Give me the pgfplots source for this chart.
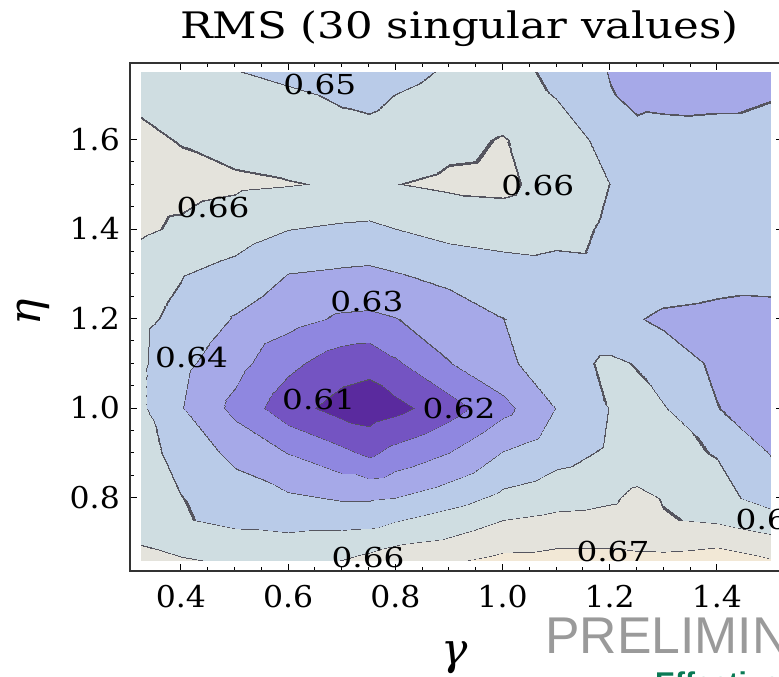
\documentclass[border=0pt]{standalone}
\usepackage{fontspec}
\setmainfont{DejaVu Serif}
\newfontfamily\titlefont[FakeStretch=1.19]{DejaVu Serif}
\newfontfamily\tickfont[FakeStretch=1.05]{DejaVu Serif}
\newfontfamily\sansfont{Liberation Sans}
\usepackage{pgfplots}
\pgfplotsset{compat=1.18}
\definecolor{prelim}{RGB}{154,154,154}
\definecolor{effgreen}{RGB}{10,122,85}
\begin{document}
\begin{tikzpicture}[x=1pt,y=1pt]
\begin{axis}[
  at={(130pt,106pt)}, anchor=south west, scale only axis,
  width=653pt, height=508pt,
  xmin=0.305, xmax=1.5233, ymin=0.6358, ymax=1.771,
  axis on top,
  xtick={0.4,0.6,0.8,1.0,1.2,1.4}, xticklabels={0.4,0.6,0.8,1.0,1.2,1.4},
  ytick={0.8,1.0,1.2,1.4,1.6}, yticklabels={0.8,1.0,1.2,1.4,1.6},
  minor x tick num=3, minor y tick num=3,
  tick align=inside, tick pos=both,
  major tick length=7pt, minor tick length=4pt,
  every tick/.style={black, line width=0.9pt},
  axis line style={black!80, line width=1.2pt},
  xticklabel style={inner sep=0pt, anchor=north, yshift=-14pt, font=\tickfont\fontsize{30}{30}\selectfont},
  yticklabel style={inner sep=0pt, anchor=east, xshift=-10pt, font=\tickfont\fontsize{30}{30}\selectfont},
  colormap={rmsmap}{
    rgb255(0)=(90,42,158)
    rgb255(9.89)=(85,85,95)
    rgb255(10.11)=(116,84,194)
    rgb255(19.89)=(85,85,95)
    rgb255(20.11)=(143,135,224)
    rgb255(29.89)=(85,85,95)
    rgb255(30.11)=(166,169,232)
    rgb255(39.89)=(85,85,95)
    rgb255(40.11)=(185,203,232)
    rgb255(49.89)=(85,85,95)
    rgb255(50.11)=(207,221,225)
    rgb255(59.89)=(85,85,95)
    rgb255(60.11)=(228,227,220)
    rgb255(69.89)=(85,85,95)
    rgb255(70.11)=(242,232,214)
    rgb255(80)=(242,232,214)
  },
  colormap access=piecewise constant,
  point meta min=0.60, point meta max=0.68,
]
\addplot[surf, shader=interp, mesh/cols=15, point meta=explicit] table[x=x, y=y, meta=z] {
x y z
0.325 0.66 0.6625
0.4 0.66 0.6608
0.5 0.66 0.6585
0.6 0.66 0.658
0.7 0.66 0.66
0.75 0.66 0.662
0.8 0.66 0.6645
0.9 0.66 0.6685
1.0 0.66 0.6725
1.1 0.66 0.6728
1.2 0.66 0.6728
1.25 0.66 0.6725
1.3 0.66 0.6725
1.4 0.66 0.6735
1.5 0.66 0.6705
0.325 0.7 0.6595
0.4 0.7 0.6565
0.5 0.7 0.654
0.6 0.7 0.6535
0.7 0.7 0.6555
0.75 0.7 0.657
0.8 0.7 0.6588
0.9 0.7 0.6615
1.0 0.7 0.6665
1.1 0.7 0.6685
1.2 0.7 0.6685
1.25 0.7 0.6675
1.3 0.7 0.667
1.4 0.7 0.6685
1.5 0.7 0.663
0.325 0.75 0.658
0.4 0.75 0.6508
0.5 0.75 0.6475
0.6 0.75 0.6455
0.7 0.75 0.6452
0.75 0.75 0.6455
0.8 0.75 0.6493
0.9 0.75 0.6545
1.0 0.75 0.66
1.1 0.75 0.6625
1.2 0.75 0.6635
1.25 0.75 0.6645
1.3 0.75 0.6607
1.4 0.75 0.6585
1.5 0.75 0.6545
0.325 0.8 0.6565
0.4 0.8 0.6502
0.5 0.8 0.6455
0.6 0.8 0.6415
0.7 0.8 0.6392
0.75 0.8 0.6391
0.8 0.8 0.6401
0.9 0.8 0.6455
1.0 0.8 0.6525
1.1 0.8 0.656
1.2 0.8 0.6585
1.25 0.8 0.6625
1.3 0.8 0.6595
1.4 0.8 0.6535
1.5 0.8 0.6455
0.325 0.9 0.653
0.4 0.9 0.6472
0.5 0.9 0.6372
0.6 0.9 0.6298
0.7 0.9 0.6224
0.75 0.9 0.618
0.8 0.9 0.6232
0.9 0.9 0.6301
1.0 0.9 0.6405
1.1 0.9 0.6465
1.2 0.9 0.6515
1.25 0.9 0.653
1.3 0.9 0.6525
1.4 0.9 0.6495
1.5 0.9 0.6395
0.325 1.0 0.6515
0.4 1.0 0.6405
0.5 1.0 0.6273
0.6 1.0 0.614
0.7 1.0 0.606
0.75 1.0 0.6045
0.8 1.0 0.607
0.9 1.0 0.6157
1.0 1.0 0.627
1.1 1.0 0.6402
1.2 1.0 0.6503
1.25 1.0 0.6525
1.3 1.0 0.6507
1.4 1.0 0.6402
1.5 1.0 0.636
0.325 1.1 0.6515
0.4 1.1 0.6425
0.5 1.1 0.6335
0.6 1.1 0.6225
0.7 1.1 0.6145
0.75 1.1 0.613
0.8 1.1 0.6185
0.9 1.1 0.6297
1.0 1.1 0.6375
1.1 1.1 0.6465
1.2 1.1 0.6515
1.25 1.1 0.6495
1.3 1.1 0.6445
1.4 1.1 0.6385
1.5 1.1 0.636
0.325 1.2 0.652
0.4 1.2 0.6475
0.5 1.2 0.6392
0.6 1.2 0.6335
0.7 1.2 0.6285
0.75 1.2 0.628
0.8 1.2 0.6296
0.9 1.2 0.635
1.0 1.2 0.6399
1.1 1.2 0.6435
1.2 1.2 0.6435
1.25 1.2 0.6405
1.3 1.2 0.6385
1.4 1.2 0.6375
1.5 1.2 0.6365
0.325 1.3 0.6545
0.4 1.3 0.6505
0.5 1.3 0.6465
0.6 1.3 0.6399
0.7 1.3 0.6385
0.75 1.3 0.638
0.8 1.3 0.6395
0.9 1.3 0.6425
1.0 1.3 0.6445
1.1 1.3 0.646
1.2 1.3 0.647
1.25 1.3 0.646
1.3 1.3 0.6445
1.4 1.3 0.643
1.5 1.3 0.6435
0.325 1.4 0.6615
0.4 1.4 0.6585
0.5 1.4 0.655
0.6 1.4 0.6502
0.7 1.4 0.6485
0.75 1.4 0.648
0.8 1.4 0.6499
0.9 1.4 0.6535
1.0 1.4 0.6555
1.1 1.4 0.6535
1.2 1.4 0.6485
1.25 1.4 0.6465
1.3 1.4 0.6455
1.4 1.4 0.645
1.5 1.4 0.645
0.325 1.5 0.6635
0.4 1.5 0.663
0.5 1.5 0.6615
0.6 1.5 0.6605
0.7 1.5 0.659
0.75 1.5 0.6585
0.8 1.5 0.6598
0.9 1.5 0.6615
1.0 1.5 0.662
1.1 1.5 0.656
1.2 1.5 0.6499
1.25 1.5 0.6475
1.3 1.5 0.646
1.4 1.5 0.6455
1.5 1.5 0.6455
0.325 1.6 0.662
0.4 1.6 0.6595
0.5 1.6 0.657
0.6 1.6 0.655
0.7 1.6 0.654
0.75 1.6 0.6535
0.8 1.6 0.655
0.9 1.6 0.658
1.0 1.6 0.6605
1.1 1.6 0.6555
1.2 1.6 0.6465
1.25 1.6 0.6425
1.3 1.6 0.6435
1.4 1.6 0.643
1.5 1.6 0.643
0.325 1.7 0.658
0.4 1.7 0.656
0.5 1.7 0.654
0.6 1.7 0.652
0.7 1.7 0.6485
0.75 1.7 0.6475
0.8 1.7 0.6501
0.9 1.7 0.6545
1.0 1.7 0.6555
1.1 1.7 0.6495
1.2 1.7 0.6405
1.25 1.7 0.638
1.3 1.7 0.6375
1.4 1.7 0.638
1.5 1.7 0.6395
0.325 1.75 0.657
0.4 1.75 0.654
0.5 1.75 0.6505
0.6 1.75 0.647
0.7 1.75 0.645
0.75 1.75 0.6445
0.8 1.75 0.646
0.9 1.75 0.6515
1.0 1.75 0.6525
1.1 1.75 0.6485
1.2 1.75 0.6395
1.25 1.75 0.637
1.3 1.75 0.635
1.4 1.75 0.633
1.5 1.75 0.632
};
\begin{scope}[every node/.style={font=\titlefont\fontsize{27.5}{28}\selectfont, inner sep=0pt, text=black}]
\node at (axis cs:0.659,1.722) {0.65};
\node at (axis cs:0.46,1.449) {0.66};
\node at (axis cs:1.066,1.498) {0.66};
\node at (axis cs:0.747,1.237) {0.63};
\node at (axis cs:0.42,1.114) {0.64};
\node at (axis cs:0.657,1.02) {0.61};
\node at (axis cs:0.919,1.0) {0.62};
\node at (axis cs:0.749,0.665) {0.66};
\node at (axis cs:1.206,0.68) {0.67};
\node at (axis cs:1.503,0.75) {0.65};
\end{scope}
\end{axis}
\node[anchor=base west, inner sep=0pt, font=\titlefont\fontsize{36.5}{40}\selectfont] at (180,638.7) {RMS (30 singular values)};
\node[anchor=base, rotate=90, inner sep=0pt, font=\itshape\fontsize{44}{44}\selectfont] at (40,365) {η};
\node[anchor=base, inner sep=0pt, font=\itshape\fontsize{44}{44}\selectfont] at (455,12) {γ};
\node[anchor=base west, inner sep=0pt, text=prelim, font=\sansfont\fontsize{51.7}{52}\selectfont] at (545,23) {PRELIMINARY};
\node[anchor=base west, inner sep=0pt, text=effgreen, font=\sansfont\bfseries\fontsize{30}{30}\selectfont] at (655,-17) {Effective};
\pgfresetboundingbox
\useasboundingbox (0,0) rectangle (779,677);
\end{tikzpicture}
\end{document}
